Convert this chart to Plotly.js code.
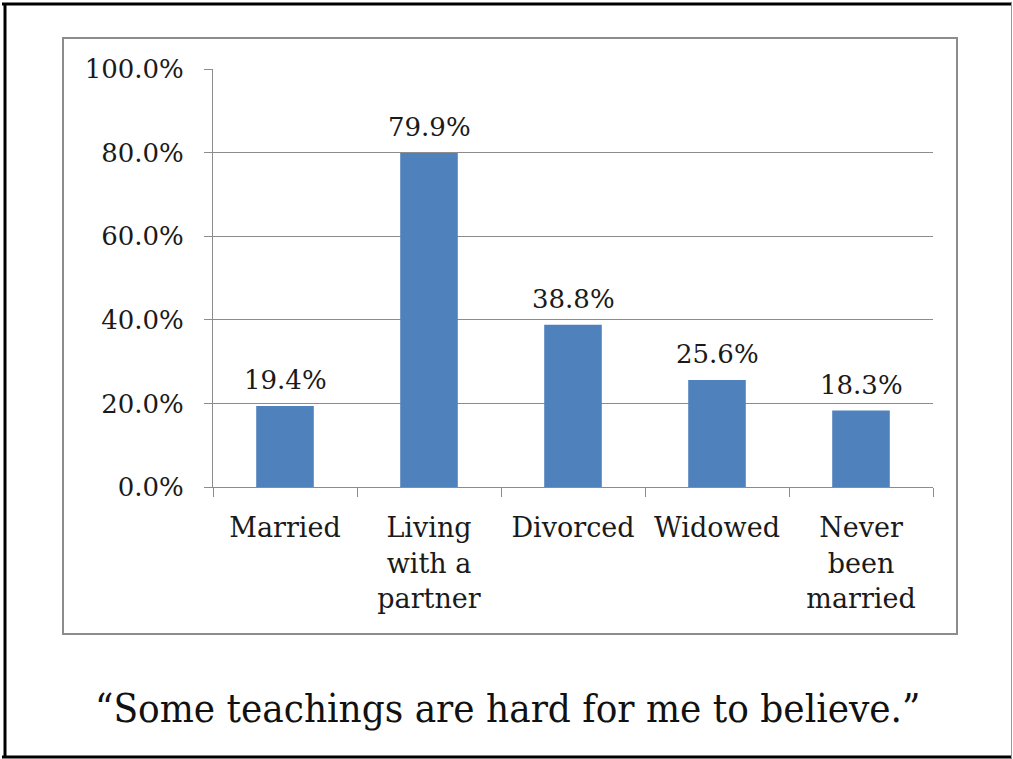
<!DOCTYPE html>
<html>
<head>
<meta charset="utf-8">
<script src="https://cdn.plot.ly/plotly-3.0.1.min.js"></script>
<style>
html,body{margin:0;padding:0;background:#fff;}
#chart{width:1013px;height:759px;}
</style>
</head>
<body>
<div id="chart"></div>
<script>
const categories = ["Married", "Living<br>with a<br>partner", "Divorced", "Widowed", "Never<br>been<br>married"];
const values = [0.194, 0.799, 0.388, 0.256, 0.183];
const valueLabels = ["19.4%", "79.9%", "38.8%", "25.6%", "18.3%"];
const caption = "\u201cSome teachings are hard for me to believe.\u201d";

const W = 1013, H = 759;
const M = {l: 213, r: 80, t: 69, b: 272};
const pw = W - M.l - M.r, ph = H - M.t - M.b;
const px = v => (v - M.l) / pw;
const py = v => (H - M.b - v) / ph;

const serif = "DejaVu Serif, Liberation Serif, serif";
const gray = "#8c8c8c";

const trace = {
  type: "bar",
  x: categories,
  y: values,
  marker: {color: "#4f81bd"},
  hoverinfo: "none"
};

const labelAnnotations = categories.map((c, i) => ({
  x: c, y: values[i], xref: "x", yref: "y",
  text: valueLabels[i], showarrow: false,
  xanchor: "center", yanchor: "bottom", yshift: 9,
  font: {family: serif, size: 26, color: "#1a1a1a"}
}));

const layout = {
  width: W, height: H,
  margin: M,
  paper_bgcolor: "#fff",
  plot_bgcolor: "#fff",
  showlegend: false,
  bargap: 0.6,
  font: {family: serif, size: 26, color: "#1a1a1a"},
  xaxis: {
    showline: true, linecolor: gray, linewidth: 1,
    ticks: "outside", ticklen: 9, tickcolor: gray, tickwidth: 1,
    tickson: "boundaries",
    showgrid: false,
    tickfont: {family: serif, size: 27, color: "#1a1a1a"},
    ticklabelstandoff: 17,
    fixedrange: true
  },
  yaxis: {
    range: [0, 1], dtick: 0.2, tick0: 0,
    tickformat: ".1%",
    showline: true, linecolor: gray, linewidth: 1,
    ticks: "outside", ticklen: 8, tickcolor: gray, tickwidth: 1,
    showgrid: true, gridcolor: gray, gridwidth: 1,
    zeroline: false,
    tickfont: {family: serif, size: 26, color: "#1a1a1a"},
    ticklabelstandoff: 15,
    fixedrange: true
  },
  shapes: [
    {type: "rect", xref: "paper", yref: "paper", layer: "below",
     x0: px(63), x1: px(957), y0: py(38), y1: py(634),
     line: {color: gray, width: 2}, fillcolor: "rgba(0,0,0,0)"},
    {type: "line", xref: "paper", yref: "paper", x0: px(2), x1: px(1012), y0: py(4), y1: py(4), line: {color: "#000", width: 3}},
    {type: "line", xref: "paper", yref: "paper", x0: px(2), x1: px(1012), y0: py(757), y1: py(757), line: {color: "#000", width: 3}},
    {type: "line", xref: "paper", yref: "paper", x0: px(5), x1: px(5), y0: py(3), y1: py(758), line: {color: "#000", width: 3}},
    {type: "line", xref: "paper", yref: "paper", x0: px(1011.5), x1: px(1011.5), y0: py(3), y1: py(758), line: {color: "#999", width: 1}}
  ],
  annotations: labelAnnotations.concat([
    {text: caption, xref: "paper", yref: "paper", x: px(507), y: py(708),
     xanchor: "center", yanchor: "middle", showarrow: false,
     font: {family: "DejaVu Serif Condensed, Liberation Serif, serif", size: 40, color: "#111"}}
  ])
};

Plotly.newPlot("chart", [trace], layout, {displayModeBar: false, staticPlot: true});
</script>
</body>
</html>
